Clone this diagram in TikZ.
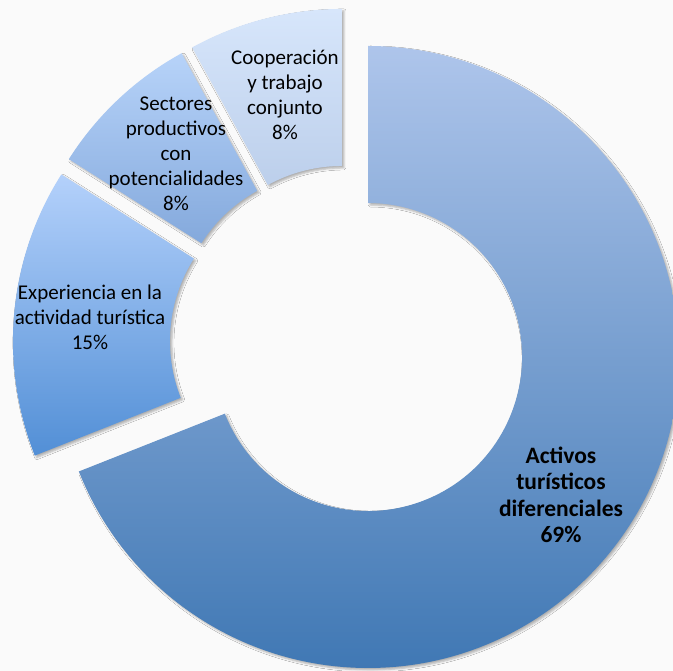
\documentclass[tikz,border=0pt]{standalone}
\usepackage{fontspec}
\setmainfont{Carlito}
\usetikzlibrary{calc, shadows.blur}
\definecolor{paper}{HTML}{FAFAFA}
\definecolor{actTop}{HTML}{AEC5EB}
\definecolor{actBot}{HTML}{4078B4}
\definecolor{expTop}{HTML}{B4D1FB}
\definecolor{expBot}{HTML}{528FD6}
\definecolor{secTop}{HTML}{B7D3F9}
\definecolor{secBot}{HTML}{84A9DC}
\definecolor{coopTop}{HTML}{D7E6FB}
\definecolor{coopBot}{HTML}{BCCFEB}
\tikzset{
x=1pt, y=1pt, % one unit is one pixel of the chart
ring/.style={blur shadow={shadow xshift=2pt, shadow yshift=-2pt, shadow blur radius=2pt, shadow opacity=30}}, % every piece of the doughnut
pietext/.style={align=center, inner sep=0pt, text=black, font=\fontsize{21}{25}\selectfont}, % the labels inside the pieces
}

\begin{document}
\begin{tikzpicture}
    \fill[paper] (0,0) rectangle (673,671);
    \useasboundingbox (0,0) rectangle (673,671);

    \coordinate (c) at (348,327.6);
    \coordinate (ca) at ($(c)+(-34.2:24.2)$);
    \coordinate (ce) at ($(c)+(174.6:24.2)$);
    \coordinate (cs) at ($(c)+(133.2:24.2)$);
    \coordinate (cc) at ($(c)+(104.4:24.2)$);

    \path[ring, top color=actTop, bottom color=actBot] ($(ca)+(90:311)$) arc[start angle=90, end angle=-158.4, radius=311pt] -- ($(ca)+(-158.4:154)$) arc[start angle=-158.4, end angle=90, radius=154pt] -- cycle;
    \path[ring, top color=expTop, bottom color=expBot] ($(ce)+(201.6:311)$) arc[start angle=201.6, end angle=147.6, radius=311pt] -- ($(ce)+(147.6:154)$) arc[start angle=147.6, end angle=201.6, radius=154pt] -- cycle;
    \path[ring, top color=secTop, bottom color=secBot] ($(cs)+(147.6:311)$) arc[start angle=147.6, end angle=118.8, radius=311pt] -- ($(cs)+(118.8:154)$) arc[start angle=118.8, end angle=147.6, radius=154pt] -- cycle;
    \path[ring, top color=coopTop, bottom color=coopBot] ($(cc)+(118.8:311)$) arc[start angle=118.8, end angle=90, radius=311pt] -- ($(cc)+(90:154)$) arc[start angle=90, end angle=118.8, radius=154pt] -- cycle;

    \node[pietext] (coop) at (285,576) {Cooperación\\y trabajo\\conjunto\\8\%};
    \node[pietext] (sec) at (176,517) {Sectores\\productivos\\con\\potencialidades\\8\%};
    \node[pietext] (exp) at (90,354) {Experiencia en la\\actividad turística\\15\%};
    \node[pietext, font=\bfseries\fontsize{23.5}{26.5}\selectfont] (act) at (561,176) {Activos\\turísticos\\diferenciales\\69\%};
\end{tikzpicture}
\end{document}
